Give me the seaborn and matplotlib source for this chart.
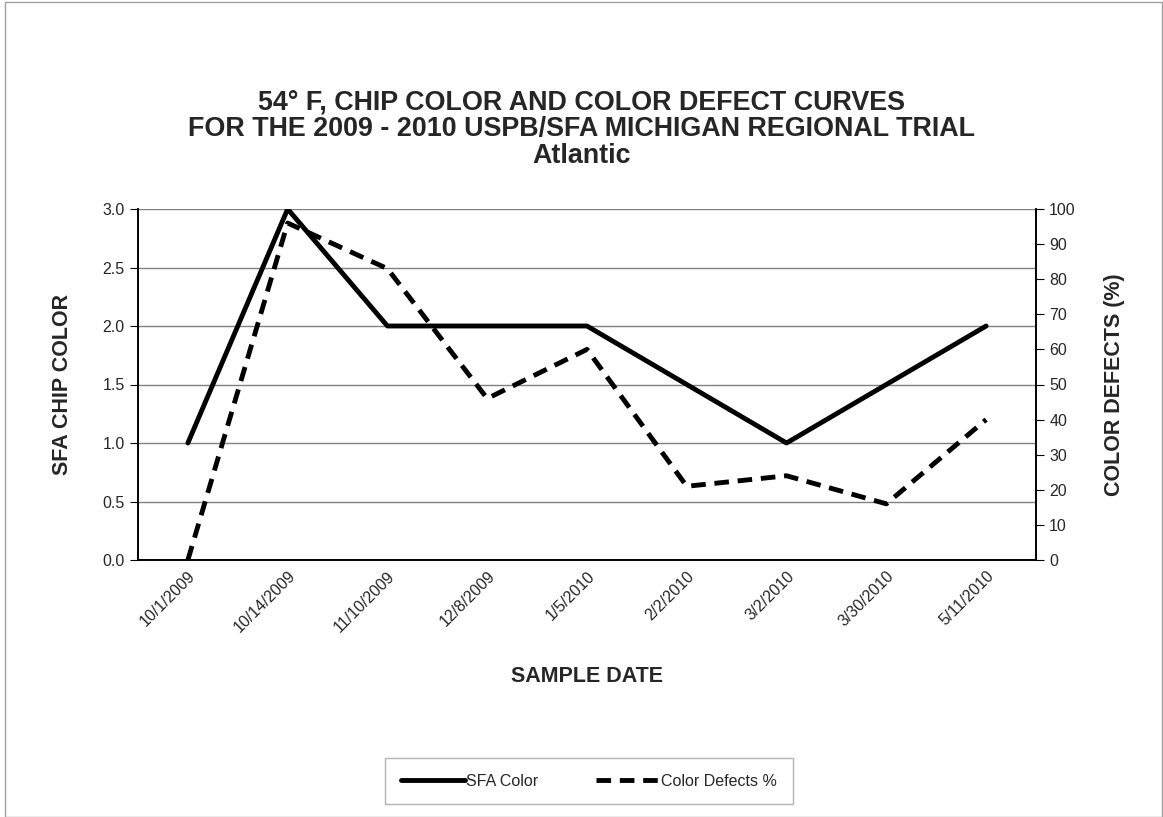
import pandas as pd
import numpy as np
import matplotlib.pyplot as plt
import seaborn as sns
from matplotlib.lines import Line2D
from matplotlib.patches import Rectangle

# Data
dates = ['10/1/2009', '10/14/2009', '11/10/2009', '12/8/2009', '1/5/2010',
         '2/2/2010', '3/2/2010', '3/30/2010', '5/11/2010']
sfa_color = [1.0, 3.0, 2.0, 2.0, 2.0, 1.5, 1.0, 1.5, 2.0]
color_defects = [0, 96, 83, 46, 60, 21, 24, 16, 40]

df = pd.DataFrame({'Date': dates, 'SFA': sfa_color, 'Defects': color_defects})
df['pos'] = np.arange(len(df))

sns.set_style('white')
plt.rcParams['font.family'] = ['Liberation Sans', 'DejaVu Sans']

fig = plt.figure(figsize=(11.63, 8.17), dpi=100)
fig.patches.append(Rectangle((0.004, 0.0), 0.995, 0.998, transform=fig.transFigure,
                             fill=False, edgecolor='#a0a0a0', lw=1))
ax = fig.add_axes([138 / 1163, 1 - 560 / 817, 898 / 1163, 351 / 817])
ax2 = ax.twinx()

dash = (0, (3, 1.8))
sns.lineplot(data=df, x='pos', y='SFA', ax=ax, color='black', lw=3.5)
sns.lineplot(data=df, x='pos', y='Defects', ax=ax2, color='black', lw=3.5,
             linestyle=dash)

ax.set_xlim(-0.5, len(dates) - 0.5)
ax.set_ylim(0, 3)
ax.set_yticks(np.arange(0, 3.01, 0.5))
ax.set_yticklabels([f'{v:.1f}' for v in np.arange(0, 3.01, 0.5)], fontsize=11.5)
ax2.set_ylim(0, 100)
ax2.set_yticks(range(0, 101, 10))
ax2.set_yticklabels([str(v) for v in range(0, 101, 10)], fontsize=11.5)

ax.set_xticks(np.arange(-0.5, len(dates), 1), minor=False)
ax.set_xticklabels([])
ax.set_xticks(np.arange(len(dates)), minor=True)
ax.set_xticklabels(dates, minor=True, rotation=45, ha='right', rotation_mode='anchor', fontsize=11.5)
ax.tick_params(axis='x', which='minor', length=0, pad=6)
ax.tick_params(axis='x', which='major', length=6, direction='out', color='black')
ax.tick_params(axis='y', length=6, direction='out', color='black', left=True)
ax2.tick_params(axis='y', length=6, direction='out', color='black', right=True)

ax.yaxis.grid(True, color='#808080', lw=1)
ax.set_axisbelow(True)
for a in (ax, ax2):
    a.spines['top'].set_visible(False)
    for s in ('left', 'right', 'bottom'):
        a.spines[s].set_color('black')
        a.spines[s].set_linewidth(1.2)

ax.set_xlabel('SAMPLE DATE', fontsize=15.5, fontweight='bold', labelpad=22)
ax.set_ylabel('SFA CHIP COLOR', fontsize=15.5, fontweight='bold', labelpad=21)
ax2.set_ylabel('COLOR DEFECTS (%)', fontsize=15.5, fontweight='bold', labelpad=20)

fig.text(0.5, 1 - 129 / 817,
         '54° F, CHIP COLOR AND COLOR DEFECT CURVES\n'
         'FOR THE 2009 - 2010 USPB/SFA MICHIGAN REGIONAL TRIAL\nAtlantic',
         ha='center', va='center', fontsize=19.4, fontweight='bold', linespacing=1.03)

handles = [Line2D([], [], color='black', lw=3.5),
           Line2D([], [], color='black', lw=3.5, linestyle=dash)]
leg = fig.legend(handles, ['SFA Color', 'Color Defects %'], loc='center',
                 bbox_to_anchor=(589 / 1163, 1 - 781 / 817), ncol=2, fontsize=11.5,
                 frameon=True, fancybox=False, edgecolor='#a0a0a0',
                 handlelength=4.0, handletextpad=0.1, columnspacing=3.6,
                 borderpad=1.0, borderaxespad=0)
leg.get_frame().set_linewidth(1)

fig.savefig('out.png', dpi=100)
